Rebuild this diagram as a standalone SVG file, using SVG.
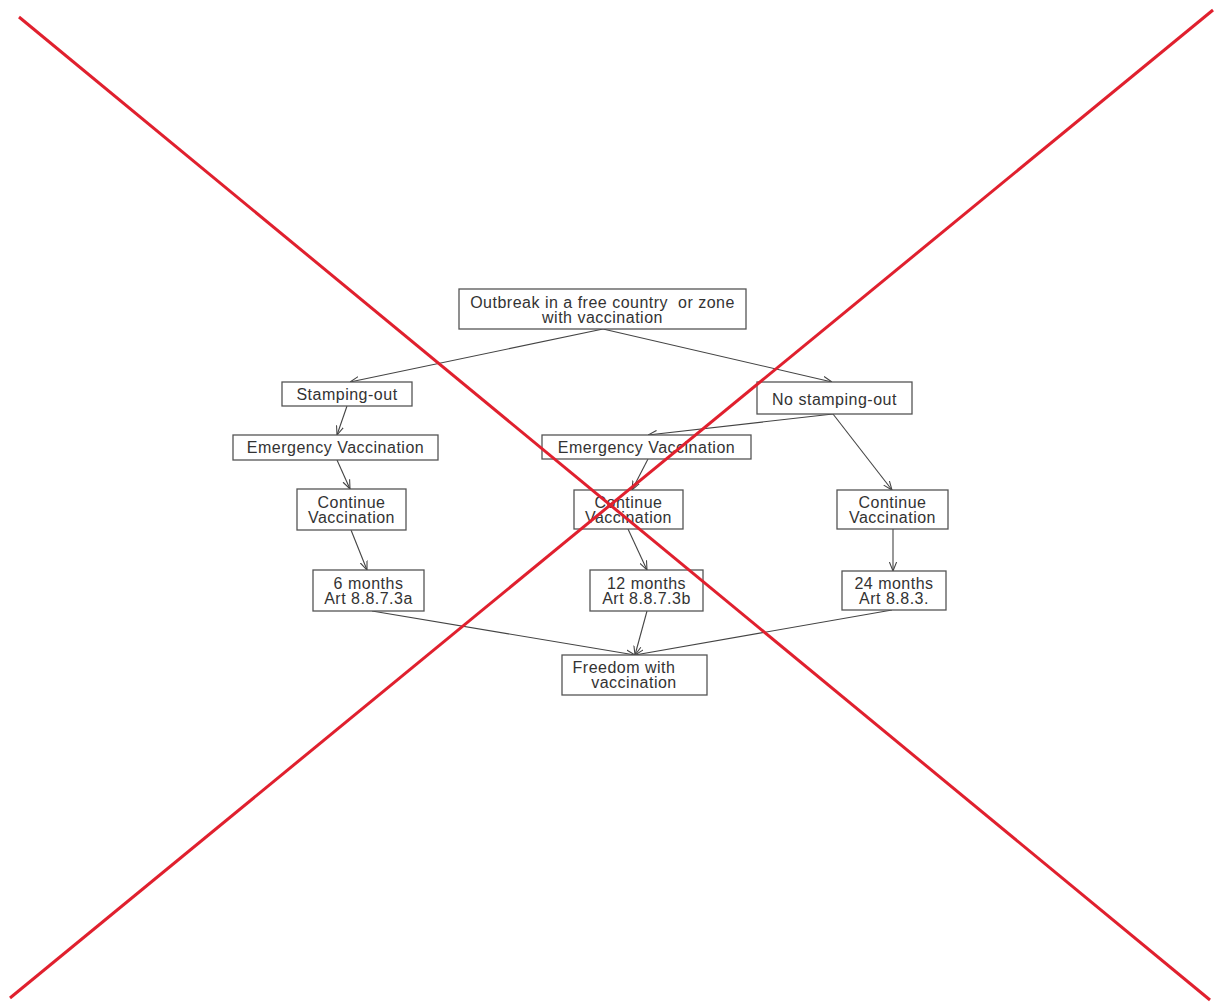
<svg xmlns="http://www.w3.org/2000/svg" width="1215" height="1003" viewBox="0 0 1215 1003">
<style>
.box{fill:#fff;stroke:#555;stroke-width:1.3}
.t{font-family:"Liberation Sans",Arial,sans-serif;font-size:16px;letter-spacing:0.5px;fill:#333;text-anchor:middle;white-space:pre}
.c{stroke:#444;stroke-width:1.1;fill:none;marker-end:url(#arr)}
.x{stroke:#e0202e;stroke-width:3;fill:none}
</style>
<defs>
<marker id="arr" viewBox="0 0 10 10" refX="10" refY="5" markerWidth="9" markerHeight="9" markerUnits="userSpaceOnUse" orient="auto">
<path d="M0,1 L10,5 L0,9" fill="none" stroke="#444" stroke-width="1.2"/>
</marker>
</defs>
<rect width="1215" height="1003" fill="#fff"/>
<g id="connectors">
<line class="c" x1="603" y1="329" x2="350" y2="382"/>
<line class="c" x1="603" y1="329" x2="832" y2="382"/>
<line class="c" x1="347" y1="406" x2="337" y2="435"/>
<line class="c" x1="337" y1="460" x2="350" y2="489"/>
<line class="c" x1="833" y1="414" x2="648" y2="435"/>
<line class="c" x1="833" y1="414" x2="892" y2="490"/>
<line class="c" x1="648" y1="459" x2="632" y2="490"/>
<line class="c" x1="351" y1="530" x2="367" y2="570"/>
<line class="c" x1="628" y1="529" x2="647" y2="570"/>
<line class="c" x1="893" y1="529" x2="893" y2="571"/>
<line class="c" x1="372" y1="611" x2="635" y2="655"/>
<line class="c" x1="647" y1="611" x2="635" y2="655"/>
<line class="c" x1="892" y1="610" x2="635" y2="655"/>
</g>
<g id="outbreak"><rect class="box" x="459" y="289" width="287" height="40"/><text class="t" x="602.5" y="307.5">Outbreak in a free country  or zone</text><text class="t" x="602.5" y="322.5">with vaccination</text></g>
<g id="stamping"><rect class="box" x="282" y="382" width="130" height="24"/><text class="t" x="347" y="400">Stamping-out</text></g>
<g id="nostamping"><rect class="box" x="757" y="382" width="155" height="32"/><text class="t" x="834.5" y="405">No stamping-out</text></g>
<g id="emerg-left"><rect class="box" x="233" y="435" width="205" height="25"/><text class="t" x="335.5" y="453">Emergency Vaccination</text></g>
<g id="emerg-center"><rect class="box" x="542" y="435" width="209" height="24"/><text class="t" x="646.5" y="453">Emergency Vaccination</text></g>
<g id="cont-left"><rect class="box" x="297" y="489" width="109" height="41"/><text class="t" x="351.5" y="507.5">Continue</text><text class="t" x="351.5" y="522.5">Vaccination</text></g>
<g id="cont-center"><rect class="box" x="574" y="490" width="109" height="39"/><text class="t" x="628.5" y="507.5">Continue</text><text class="t" x="628.5" y="522.5">Vaccination</text></g>
<g id="cont-right"><rect class="box" x="837" y="490" width="111" height="39"/><text class="t" x="892.5" y="507.5">Continue</text><text class="t" x="892.5" y="522.5">Vaccination</text></g>
<g id="m6"><rect class="box" x="313" y="570" width="111" height="41"/><text class="t" x="368.5" y="588.5">6 months</text><text class="t" x="368.5" y="603.5">Art 8.8.7.3a</text></g>
<g id="m12"><rect class="box" x="590" y="570" width="113" height="41"/><text class="t" x="646.5" y="588.5">12 months</text><text class="t" x="646.5" y="603.5">Art 8.8.7.3b</text></g>
<g id="m24"><rect class="box" x="842" y="571" width="104" height="39"/><text class="t" x="894" y="588.5">24 months</text><text class="t" x="894" y="603.5">Art 8.8.3.</text></g>
<g id="freedom"><rect class="box" x="562" y="655" width="145" height="40"/><text class="t" x="624" y="672.5">Freedom with</text><text class="t" x="634" y="687.5">vaccination</text></g>
<g id="cross">
<line class="x" x1="19" y1="17" x2="1210" y2="1000"/>
<line class="x" x1="1213" y1="10" x2="10" y2="998"/>
</g>
</svg>
